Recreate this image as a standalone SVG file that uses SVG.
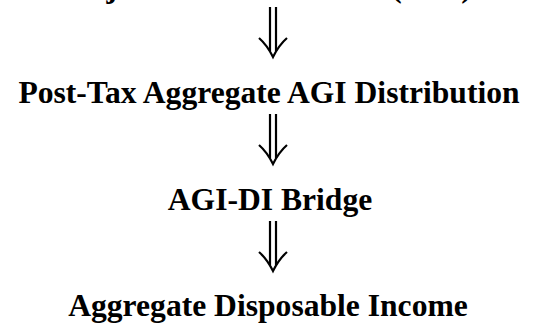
<svg xmlns="http://www.w3.org/2000/svg" width="540" height="326" viewBox="0 0 540 326">
<style>
.t{font-family:"Liberation Serif","Times New Roman",serif;font-weight:bold;font-size:31.6px;fill:#000;text-anchor:middle}
.a{fill:none;stroke:#000;stroke-width:2.2;stroke-linecap:butt}
</style>
<defs>
<g id="dar">
<line class="a" x1="-3" y1="0" x2="-3" y2="44"/>
<line class="a" x1="3" y1="0" x2="3" y2="44"/>
<path class="a" d="M-14,31 Q-6,38 0,50 Q6,38 14,31"/>
</g>
</defs>
<rect width="540" height="326" fill="#fff"/>
<g id="n1"><text class="t" x="269" y="-3.5">Adjusted Gross Income (AGI)</text></g>
<g id="n2"><text class="t" x="269" y="103">Post-Tax Aggregate AGI Distribution</text></g>
<g id="n3"><text class="t" x="270" y="210">AGI-DI Bridge</text></g>
<g id="n4"><text class="t" x="268" y="316">Aggregate Disposable Income</text></g>
<g id="connectors">
<use href="#dar" x="273" y="7"/>
<use href="#dar" x="273" y="114"/>
<use href="#dar" x="273" y="221"/>
</g>
</svg>
